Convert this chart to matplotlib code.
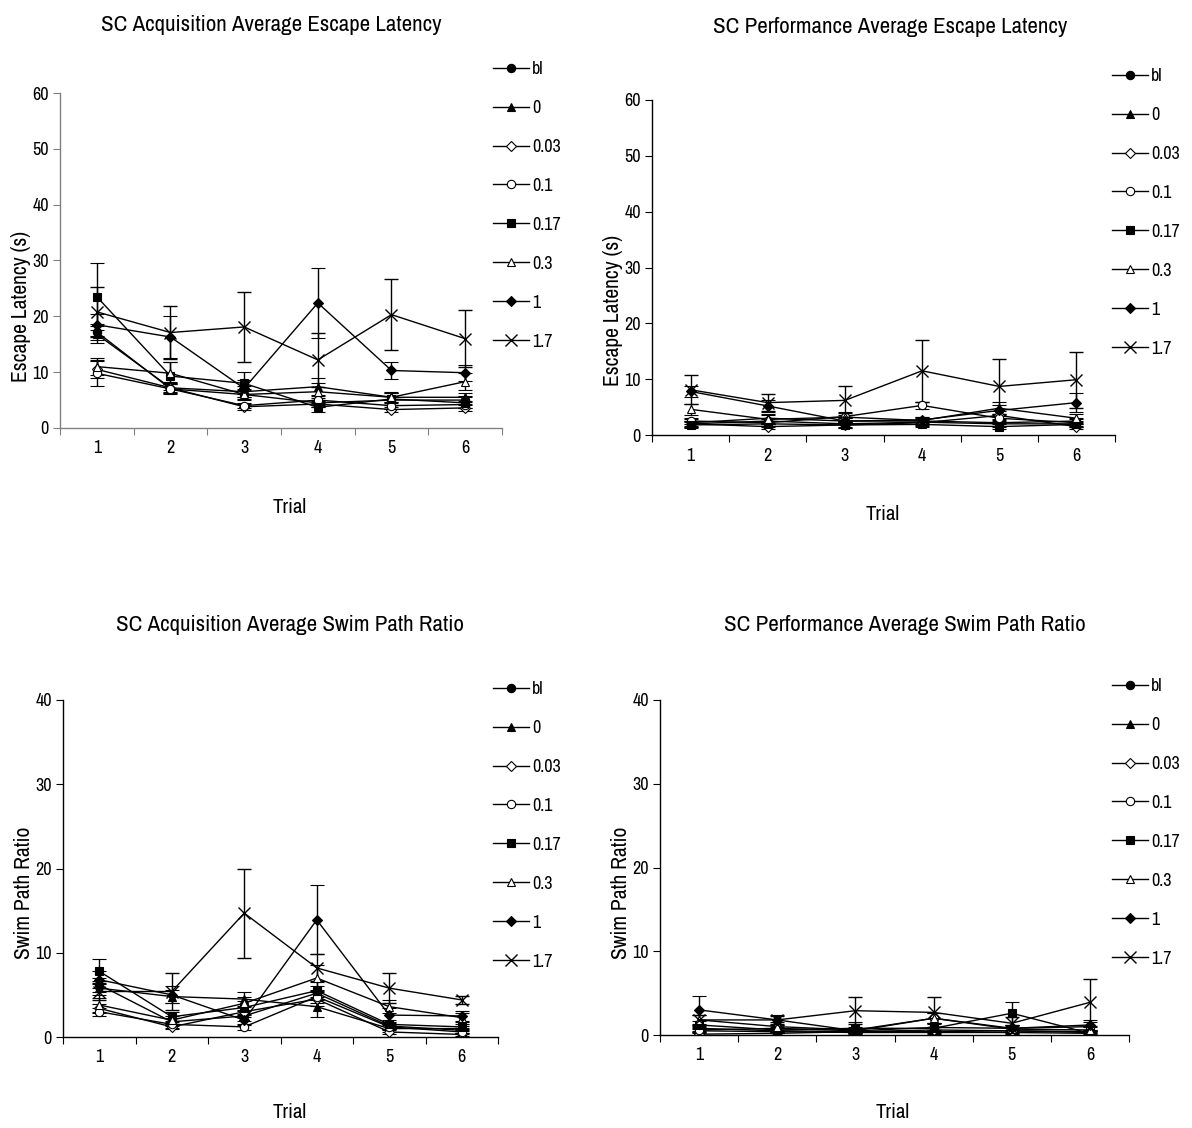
import matplotlib
matplotlib.use("Agg")
import matplotlib.pyplot as plt
from matplotlib import font_manager
from matplotlib.lines import Line2D
import numpy as np

names = {f.name for f in font_manager.fontManager.ttflist}
fam = [n for n in ['Archivo Narrow', 'Liberation Sans Narrow', 'Liberation Sans'] if n in names]
plt.rcParams['font.family'] = fam + ['DejaVu Sans']

trials = [1, 2, 3, 4, 5, 6]
groups = ["bl", "0", "0.03", "0.1", "0.17", "0.3", "1", "1.7"]

# Panel 1: SC Acquisition Average Escape Latency
acq_lat = {
    "bl":   [17.2, 7.0, 6.0, 4.5, 5.0, 5.0],
    "0":    [16.8, 7.2, 6.5, 7.4, 5.5, 5.5],
    "0.03": [10.5, 7.2, 3.8, 4.3, 3.3, 3.6],
    "0.1":  [9.8, 7.0, 4.0, 5.0, 4.0, 4.2],
    "0.17": [23.5, 9.3, 8.0, 3.7, 5.2, 4.5],
    "0.3":  [11.0, 9.8, 6.0, 6.5, 5.5, 8.3],
    "1":    [18.5, 16.3, 7.1, 22.4, 10.3, 9.9],
    "1.7":  [20.8, 17.1, 18.1, 12.2, 20.3, 16.0],
}
acq_lat_se = {
    "bl":   [1.5, 1.0, 0.8, 0.8, 0.8, 0.7],
    "0":    [1.5, 1.0, 1.0, 1.5, 0.8, 0.8],
    "0.03": [1.5, 0.8, 0.5, 0.6, 0.5, 0.5],
    "0.1":  [2.3, 0.8, 0.5, 0.8, 0.6, 0.6],
    "0.17": [6.0, 2.5, 2.0, 0.8, 1.0, 1.0],
    "0.3":  [1.5, 2.0, 1.0, 1.5, 1.0, 1.5],
    "1":    [2.0, 3.7, 1.5, 6.3, 1.5, 1.4],
    "1.7":  [4.5, 4.8, 6.3, 4.9, 6.4, 5.1],
}

# Panel 2: SC Performance Average Escape Latency
perf_lat = {
    "bl":   [2.0, 2.5, 2.0, 2.3, 2.0, 2.0],
    "0":    [2.2, 3.0, 2.5, 2.5, 2.2, 2.5],
    "0.03": [2.0, 1.5, 1.8, 2.2, 3.5, 1.5],
    "0.1":  [2.5, 2.2, 3.3, 5.3, 3.0, 2.2],
    "0.17": [1.8, 2.0, 1.8, 1.9, 1.5, 1.9],
    "0.3":  [4.6, 2.8, 3.2, 2.6, 4.8, 3.0],
    "1":    [7.8, 5.2, 2.5, 2.7, 4.4, 5.8],
    "1.7":  [8.1, 5.8, 6.2, 11.5, 8.7, 9.9],
}
perf_lat_se = {
    "bl":   [0.5, 0.6, 0.5, 0.5, 0.5, 0.5],
    "0":    [0.6, 0.8, 0.6, 0.6, 0.6, 0.6],
    "0.03": [0.5, 0.5, 0.5, 0.5, 0.8, 0.5],
    "0.1":  [0.6, 0.6, 0.8, 0.6, 0.8, 0.6],
    "0.17": [0.5, 0.5, 0.5, 0.5, 0.5, 0.5],
    "0.3":  [1.0, 0.8, 0.8, 0.6, 1.2, 0.8],
    "1":    [1.0, 1.0, 0.5, 0.6, 1.0, 1.7],
    "1.7":  [2.6, 1.5, 2.6, 5.6, 5.0, 5.0],
}

# Panel 3: SC Acquisition Average Swim Path Ratio
acq_spr = {
    "bl":   [6.2, 1.8, 2.5, 5.2, 1.3, 0.8],
    "0":    [5.8, 4.8, 4.5, 3.6, 1.0, 1.0],
    "0.03": [3.4, 1.2, 3.0, 4.5, 0.6, 0.3],
    "0.1":  [3.0, 1.5, 1.2, 4.8, 1.2, 0.6],
    "0.17": [7.8, 2.4, 3.5, 5.5, 1.5, 1.2],
    "0.3":  [3.8, 2.0, 4.0, 7.0, 3.6, 2.3],
    "1":    [6.8, 5.0, 2.0, 13.9, 2.6, 2.5],
    "1.7":  [5.4, 5.4, 14.7, 8.2, 5.8, 4.4],
}
acq_spr_se = {
    "bl":   [0.8, 0.5, 0.6, 0.8, 0.4, 0.3],
    "0":    [0.8, 0.8, 0.8, 1.2, 0.4, 0.3],
    "0.03": [0.5, 0.3, 0.6, 0.8, 0.3, 0.2],
    "0.1":  [0.5, 0.4, 0.4, 0.8, 0.4, 0.3],
    "0.17": [1.5, 0.6, 0.8, 1.0, 0.5, 0.4],
    "0.3":  [0.8, 0.5, 0.8, 1.5, 0.8, 0.5],
    "1":    [1.0, 1.0, 0.6, 4.1, 0.8, 0.6],
    "1.7":  [1.0, 2.2, 5.3, 1.6, 1.8, 0.5],
}

# Panel 4: SC Performance Average Swim Path Ratio
perf_spr = {
    "bl":   [0.8, 0.5, 0.4, 0.4, 0.5, 0.4],
    "0":    [0.5, 0.4, 0.3, 0.3, 0.3, 0.2],
    "0.03": [0.1, 0.2, 0.4, 0.6, 0.5, 0.3],
    "0.1":  [0.6, 0.8, 0.5, 2.0, 0.8, 1.0],
    "0.17": [1.2, 0.6, 0.8, 0.8, 2.6, 0.2],
    "0.3":  [1.8, 1.0, 0.6, 2.0, 0.7, 0.6],
    "1":    [3.0, 1.8, 0.5, 0.9, 0.8, 1.2],
    "1.7":  [1.8, 1.8, 2.9, 2.7, 1.4, 3.9],
}
perf_spr_se = {
    "bl":   [0.3, 0.3, 0.2, 0.2, 0.3, 0.2],
    "0":    [0.3, 0.2, 0.2, 0.2, 0.2, 0.2],
    "0.03": [0.2, 0.2, 0.2, 0.3, 0.3, 0.2],
    "0.1":  [0.3, 0.4, 0.3, 0.6, 0.4, 0.5],
    "0.17": [0.5, 0.3, 0.8, 0.5, 1.4, 0.3],
    "0.3":  [0.6, 0.5, 0.3, 0.6, 0.4, 0.4],
    "1":    [1.7, 0.6, 0.3, 0.5, 0.4, 0.6],
    "1.7":  [0.6, 0.5, 1.6, 1.8, 0.8, 2.8],
}

styles = {
    "bl":   dict(marker='o', mfc='black'),
    "0":    dict(marker='^', mfc='black'),
    "0.03": dict(marker='D', mfc='white', markersize=5),
    "0.1":  dict(marker='o', mfc='white'),
    "0.17": dict(marker='s', mfc='black'),
    "0.3":  dict(marker='^', mfc='white'),
    "1":    dict(marker='D', mfc='black', markersize=5.5),
    "1.7":  dict(marker='x', mfc='black', markersize=8, mew=1.0),
}

W, H = 1192, 1128
fig = plt.figure(figsize=(W / 100, H / 100), dpi=100)

def px_axes(left, top, right, bottom):
    return fig.add_axes([left / W, 1 - bottom / H, (right - left) / W, (bottom - top) / H])

panels = [
    dict(box=(60, 93, 502, 428), data=acq_lat, se=acq_lat_se, ymax=60,
         title="SC Acquisition Average Escape Latency", title_xy=(271, 25),
         ylabel="Escape Latency (s)", ylab_y=306, xlab=(290, 508),
         leg=(493, 61), spine='#808080'),
    dict(box=(652, 100, 1115, 435), data=perf_lat, se=perf_lat_se, ymax=60,
         title="SC Performance Average Escape Latency", title_xy=(890, 27),
         ylabel="Escape Latency (s)", ylab_y=310, xlab=(883, 515),
         leg=(1112, 68), spine='black'),
    dict(box=(63, 700, 498, 1037), data=acq_spr, se=acq_spr_se, ymax=40,
         title="SC Acquisition Average Swim Path Ratio", title_xy=(290, 625),
         ylabel="Swim Path Ratio", ylab_y=893, xlab=(290, 1113),
         leg=(493, 681), spine='black'),
    dict(box=(660, 700, 1129, 1035), data=perf_spr, se=perf_spr_se, ymax=40,
         title="SC Performance Average Swim Path Ratio", title_xy=(905, 625),
         ylabel="Swim Path Ratio", ylab_y=893, xlab=(893, 1113),
         leg=(1112, 678), spine='black'),
]

for p in panels:
    left, top, right, bottom = p["box"]
    ax = px_axes(left, top, right, bottom)
    for g in groups:
        st = dict(styles[g])
        ms = st.pop('markersize', 6)
        mew = st.pop('mew', 0.8)
        ax.errorbar(trials, p["data"][g], yerr=p["se"][g], color='black',
                    lw=1.0, elinewidth=1.0, capsize=5, capthick=1.0,
                    mec='black', markersize=ms, mew=mew, label=g, **st)
    ax.set_xlim(0.5, 6.5)
    ax.set_ylim(0, p["ymax"])
    ax.set_yticks(np.arange(0, p["ymax"] + 1, 10))
    ax.set_xticks(trials)
    ax.set_xticks(np.arange(0.5, 7.0, 1.0), minor=True)
    ax.tick_params(axis='x', which='major', length=0, labelsize=13, pad=9)
    ax.tick_params(axis='x', which='minor', length=5, width=0.8, direction='out',
                   color=p["spine"])
    ax.tick_params(axis='y', length=5, width=0.8, labelsize=13, direction='out', pad=3,
                   color=p["spine"])
    for s in ['top', 'right']:
        ax.spines[s].set_visible(False)
    for s in ['left', 'bottom']:
        ax.spines[s].set_linewidth(1.0)
        ax.spines[s].set_color(p["spine"])
    wpx = right - left
    hpx = bottom - top
    ax.set_xlabel("Trial", fontsize=15)
    ax.xaxis.set_label_coords((p["xlab"][0] - left) / wpx, (bottom - (p["xlab"][1] - 10)) / hpx)
    ax.set_ylabel(p["ylabel"], fontsize=15.5)
    ax.yaxis.set_label_coords((32 + left - 60 - left) / wpx if False else -29 / wpx,
                              (bottom - p["ylab_y"]) / hpx)
    fig.text(p["title_xy"][0] / W, 1 - p["title_xy"][1] / H, p["title"],
             ha='center', va='center', fontsize=16.5)
    lx, ly = p["leg"]
    leg_handles = []
    for g in groups:
        st = dict(styles[g])
        ms = st.pop('markersize', 6)
        mew = st.pop('mew', 0.8)
        leg_handles.append(Line2D([], [], color='black', lw=1.0, mec='black',
                                  markersize=ms, mew=mew, **st))
    fig.legend(leg_handles, groups, loc='upper left',
               bbox_to_anchor=(lx / W, 1 - ly / H), frameon=False,
               fontsize=13, handlelength=2.0, handletextpad=0.15,
               labelspacing=1.27, borderpad=0, borderaxespad=0)

fig.savefig("out.png", dpi=100)
